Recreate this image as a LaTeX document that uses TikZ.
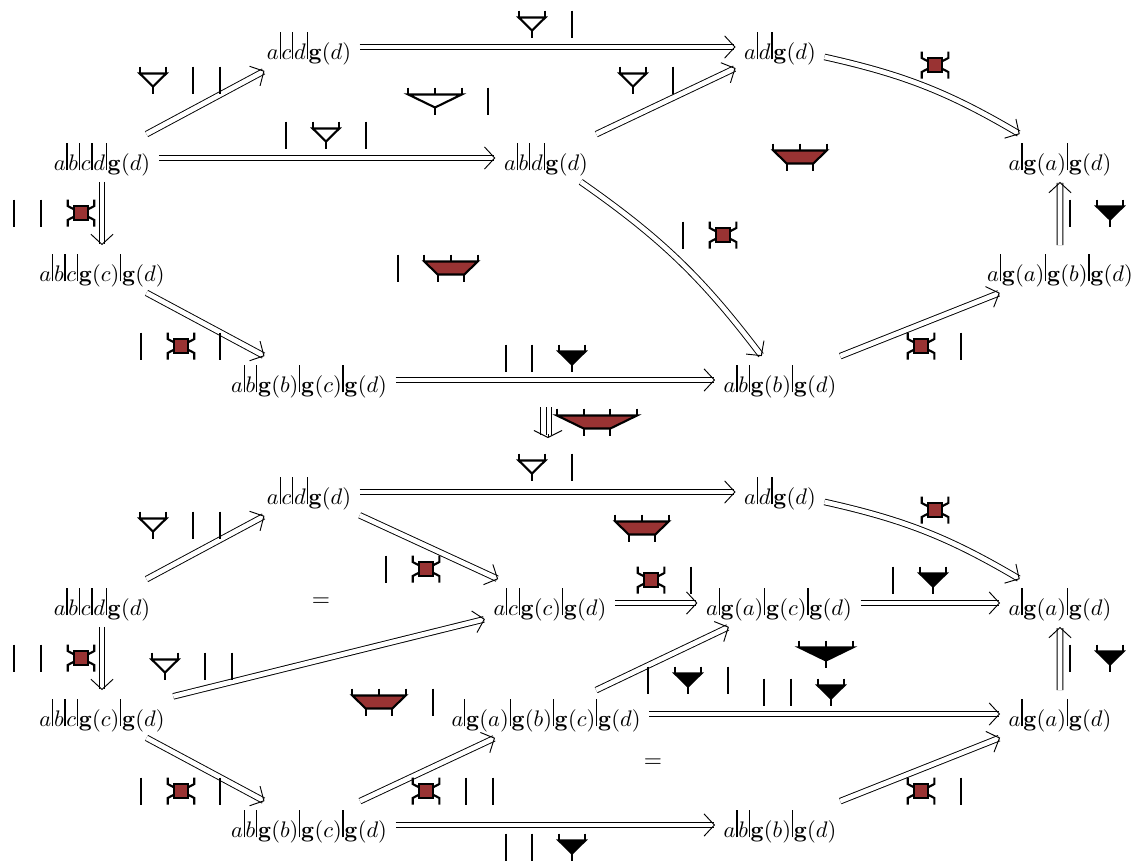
\documentclass[tikz,border=0pt]{standalone}
\usepackage{amsmath,amssymb}
\usepackage{tikz}
\usetikzlibrary{arrows.meta,calc}
\definecolor{sqred}{RGB}{153,51,51}
\newcommand{\st}{\mkern.6mu\rule{.55pt}{12pt}\mkern.6mu}
\newcommand{\gb}{\mathbf{g}}
\tikzset{
  obj/.style={scale=.96,inner xsep=3.65pt,inner ysep=3.9pt,text height=12pt,text depth=1.04pt},
  arr/.style={double,double distance=2pt,line width=.4pt,-{Straight Barb[length=4.4pt,width=9.5pt]}},
  wire/.style={line width=.9pt},
  strand/.pic={\draw[wire] (0,-13.5) -- (0,13.5);},
  mergetwo/.pic={
    \draw[wire] (-13.3,-13.5) -- (-13.3,-6.5) (13.3,-13.5) -- (13.3,-6.5) (0,6.5) -- (0,13.5);
    \draw[wire,pic actions] (-13.3,-6.5) -- (13.3,-6.5) -- (0,6.5) -- cycle;},
  mergethree/.pic={
    \draw[wire] (-26.7,-13.5) -- (-26.7,-6.5) (0,-13.5) -- (0,-6.5) (26.7,-13.5) -- (26.7,-6.5) (0,6.5) -- (0,13.5);
    \draw[wire,pic actions] (-26.7,-6.5) -- (26.7,-6.5) -- (0,6.5) -- cycle;},
  trapthree/.pic={
    \draw[wire] (-26.7,-13.5) -- (-26.7,-6.5) (0,-13.5) -- (0,-6.5) (26.7,-13.5) -- (26.7,-6.5)
      (-13.3,6.5) -- (-13.3,13.5) (13.3,6.5) -- (13.3,13.5);
    \filldraw[wire,fill=sqred] (-26.7,-6.5) -- (26.7,-6.5) -- (13.3,6.5) -- (-13.3,6.5) -- cycle;},
  trapfour/.pic={
    \draw[wire] (-40,-13.5) -- (-40,-6.5) (-13.3,-13.5) -- (-13.3,-6.5) (13.3,-13.5) -- (13.3,-6.5) (40,-13.5) -- (40,-6.5)
      (-13.3,6.5) -- (-13.3,13.5) (13.3,6.5) -- (13.3,13.5);
    \filldraw[wire,fill=sqred] (-40,-6.5) -- (40,-6.5) -- (13.3,6.5) -- (-13.3,6.5) -- cycle;},
  crossing/.pic={
    \draw[wire] (-13.3,-13.5) -- (-13.3,-7) -- (-6.7,-3.5) (13.3,-13.5) -- (13.3,-7) -- (6.7,-3.5)
      (-13.3,13.5) -- (-13.3,7) -- (-6.7,3.5) (13.3,13.5) -- (13.3,7) -- (6.7,3.5);
    \filldraw[wire,fill=sqred] (-6.7,-6.7) rectangle (6.7,6.7);}
}
\begin{document}
\begin{tikzpicture}[x=0.015cm,y=-0.015cm]
  \useasboundingbox (0,0) rectangle (1136,865);

  % upper diagram
  \node[obj] (acd) at (309,47) {$a\st c\st d\st\gb(d)$};
  \node[obj] (ad) at (780,47) {$a\st d\st\gb(d)$};
  \node[obj] (abcd) at (102,158) {$a\st b\st c\st d\st\gb(d)$};
  \node[obj] (abd) at (546,158) {$a\st b\st d\st\gb(d)$};
  \node[obj] (gagd) at (1060,158) {$a\st\gb(a)\st\gb(d)$};
  \node[obj] (abcgc) at (102,269) {$a\st b\st c\st\gb(c)\st\gb(d)$};
  \node[obj] (gagbgd) at (1060,269) {$a\st\gb(a)\st\gb(b)\st\gb(d)$};
  \node[obj] (abgbgc) at (309,380) {$a\st b\st\gb(b)\st\gb(c)\st\gb(d)$};
  \node[obj] (abgb) at (780,380) {$a\st b\st\gb(b)\st\gb(d)$};

  \draw[arr] (abcd) -- (acd);
  \draw[arr] (acd) -- (ad);
  \draw[arr] (ad) to[bend left=9] (gagd);
  \draw[arr] (abcd) -- (abd);
  \draw[arr] (abd) -- (ad);
  \draw[arr] (abd) to[bend left=9] (abgb);
  \draw[arr] (abcd) -- (abcgc);
  \draw[arr] (abcgc) -- (abgbgc);
  \draw[arr] (abgbgc) -- (abgb);
  \draw[arr] (abgb) -- (gagbgd);
  \draw[arr] (gagbgd) -- (gagd);

  \pic at (532,24) {mergetwo};
  \pic at (572,24) {strand};
  \pic at (153,80) {mergetwo};
  \pic at (193,80) {strand};
  \pic at (220,80) {strand};
  \pic at (633,80) {mergetwo};
  \pic at (673,80) {strand};
  \pic at (935,65) {crossing};
  \pic at (435,101) {mergethree};
  \pic at (488,101) {strand};
  \pic at (286,135) {strand};
  \pic at (326,135) {mergetwo};
  \pic at (366,135) {strand};
  \pic at (800,157) {trapthree};
  \pic at (14,213) {strand};
  \pic at (41,213) {strand};
  \pic at (81,213) {crossing};
  \pic at (683,235) {strand};
  \pic at (723,235) {crossing};
  \pic at (398,268) {strand};
  \pic at (451,268) {trapthree};
  \pic at (1070,213) {strand};
  \pic[fill=black] at (1110,213) {mergetwo};
  \pic at (141,346) {strand};
  \pic at (181,346) {crossing};
  \pic at (220,346) {strand};
  \pic at (506,358) {strand};
  \pic at (532,358) {strand};
  \pic[fill=black] at (572,358) {mergetwo};
  \pic at (921,346) {crossing};
  \pic at (961,346) {strand};

  % between the two
  \coordinate (tripletop) at (546,407);
  \coordinate (triplebot) at (546,435);
  \foreach \dx in {-5.5,0,5.5}
    \draw[line width=.4pt] ($(tripletop)+(\dx,0)$) -- ($(triplebot)+(\dx,0)$);
  \draw[line width=.4pt,-{Straight Barb[length=3pt,width=12pt]}] ($(triplebot)+(2,-1)$) -- ($(triplebot)+(2,3)$);
  \pic at (597,422) {trapfour};

  % lower diagram
  \node[obj] (acd2) at (309,492) {$a\st c\st d\st\gb(d)$};
  \node[obj] (ad2) at (780,492) {$a\st d\st\gb(d)$};
  \node[obj] (abcd2) at (102,603) {$a\st b\st c\st d\st\gb(d)$};
  \node[obj] (acgc) at (550,603) {$a\st c\st\gb(c)\st\gb(d)$};
  \node[obj] (gagc) at (779,603) {$a\st\gb(a)\st\gb(c)\st\gb(d)$};
  \node[obj] (gagd2) at (1060,603) {$a\st\gb(a)\st\gb(d)$};
  \node[obj] (abcgc2) at (102,714) {$a\st b\st c\st\gb(c)\st\gb(d)$};
  \node[obj] (gagbgc) at (546,714) {$a\st\gb(a)\st\gb(b)\st\gb(c)\st\gb(d)$};
  \node[obj] (gagd3) at (1060,714) {$a\st\gb(a)\st\gb(d)$};
  \node[obj] (abgbgc2) at (309,825) {$a\st b\st\gb(b)\st\gb(c)\st\gb(d)$};
  \node[obj] (abgb2) at (780,825) {$a\st b\st\gb(b)\st\gb(d)$};
  \node (eqa) at (321,602) {$=$};
  \node (eqb) at (653,763) {$=$};

  \draw[arr] (abcd2) -- (acd2);
  \draw[arr] (acd2) -- (ad2);
  \draw[arr] (ad2) to[bend left=9] (gagd2);
  \draw[arr] (abcd2) -- (abcgc2);
  \draw[arr] (acd2) -- (acgc);
  \draw[arr] (abcgc2) -- (acgc);
  \draw[arr] (acgc) -- (gagc);
  \draw[arr] (gagc) -- (gagd2);
  \draw[arr] (gagbgc) -- (gagc);
  \draw[arr] (gagbgc) -- (gagd3);
  \draw[arr] (gagd3) -- (gagd2);
  \draw[arr] (abcgc2) -- (abgbgc2);
  \draw[arr] (abgbgc2) -- (gagbgc);
  \draw[arr] (abgbgc2) -- (abgb2);
  \draw[arr] (abgb2) -- (gagd3);

  \pic at (532,467) {mergetwo};
  \pic at (572,467) {strand};
  \pic at (153,525) {mergetwo};
  \pic at (193,525) {strand};
  \pic at (220,525) {strand};
  \pic at (935,510) {crossing};
  \pic at (642,528) {trapthree};
  \pic at (386,569) {strand};
  \pic at (426,569) {crossing};
  \pic at (651,580) {crossing};
  \pic at (691,580) {strand};
  \pic at (893,580) {strand};
  \pic[fill=black] at (933,580) {mergetwo};
  \pic at (14,658) {strand};
  \pic at (41,658) {strand};
  \pic at (81,658) {crossing};
  \pic at (165,666) {mergetwo};
  \pic at (205,666) {strand};
  \pic at (232,666) {strand};
  \pic[fill=black] at (826,654) {mergethree};
  \pic at (648,680) {strand};
  \pic[fill=black] at (688,680) {mergetwo};
  \pic at (728,680) {strand};
  \pic at (764,692) {strand};
  \pic at (791,692) {strand};
  \pic[fill=black] at (831,692) {mergetwo};
  \pic at (379,702) {trapthree};
  \pic at (433,702) {strand};
  \pic at (1070,658) {strand};
  \pic[fill=black] at (1110,658) {mergetwo};
  \pic at (141,791) {strand};
  \pic at (181,791) {crossing};
  \pic at (220,791) {strand};
  \pic at (426,791) {crossing};
  \pic at (466,791) {strand};
  \pic at (493,791) {strand};
  \pic at (921,791) {crossing};
  \pic at (961,791) {strand};
  \pic at (506,847) {strand};
  \pic at (532,847) {strand};
  \pic[fill=black] at (572,847) {mergetwo};
\end{tikzpicture}
\end{document}
